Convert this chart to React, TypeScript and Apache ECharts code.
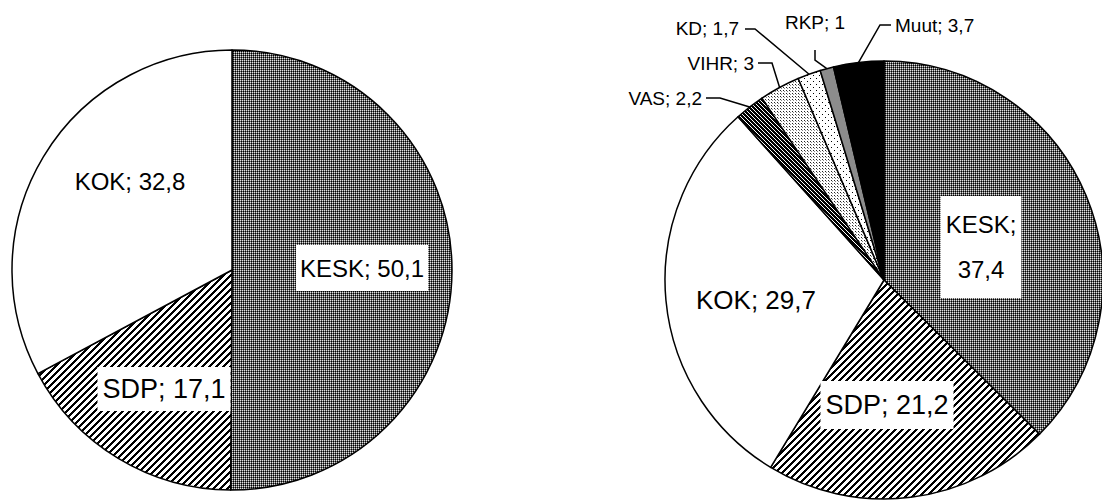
import React, { useEffect, useRef } from 'react';
import * as echarts from 'echarts';

// ---- data ----
const leftNames = ['KESK', 'SDP', 'KOK'];
const leftValues = [50.1, 17.1, 32.8];
const rightNames = ['KESK', 'SDP', 'KOK', 'VAS', 'VIHR', 'KD', 'RKP', 'Muut'];
const rightValues = [37.4, 21.2, 29.7, 2.2, 3, 1.7, 1, 3.7];

const fmt = (v: number) => String(v).replace('.', ',');

function makeTile(size: number, fn: (x: number, y: number) => string) {
  const c = document.createElement('canvas');
  c.width = size;
  c.height = size;
  const ctx = c.getContext('2d')!;
  for (let y = 0; y < size; y++) {
    for (let x = 0; x < size; x++) {
      ctx.fillStyle = fn(x, y);
      ctx.fillRect(x, y, 1, 1);
    }
  }
  return { image: c, repeat: 'repeat', imageWidth: size, imageHeight: size } as any;
}

function makePatterns() {
  const kesk = makeTile(4, (x, y) => {
    if (y % 2 === 0) return x % 2 === 0 ? '#e0e0e0' : '#5a5a5a';
    return x % 2 === 0 ? '#6a6a6a' : '#000000';
  });
  const sdp = makeTile(7, (x, y) => ((x + y) % 7 < 3 ? '#000000' : '#ffffff'));
  const vas = makeTile(4, (x, y) => (((x - y) % 4 + 4) % 4 === 0 ? '#ffffff' : '#000000'));
  const vihr = makeTile(3, (x, y) => {
    if (x === 0 && y === 0) return '#222222';
    if (x === 1 && y === 1) return '#888888';
    return '#ffffff';
  });
  const kd = makeTile(6, (x, y) => ((x === 0 && y === 0) || (x === 3 && y === 3) ? '#000000' : '#ffffff'));
  return {
    KESK: kesk,
    SDP: sdp,
    KOK: '#ffffff',
    VAS: vas,
    VIHR: vihr,
    KD: kd,
    RKP: '#8c8c8c',
    Muut: '#000000',
  } as Record<string, any>;
}

const FONT = 'Liberation Sans, Arial, sans-serif';

export default function App() {
  const ref = useRef<HTMLDivElement>(null);

  useEffect(() => {
    document.body.style.margin = '0';
    const chart = echarts.init(ref.current!, null, { renderer: 'svg' });
    const pat = makePatterns();

    const boxed = { backgroundColor: '#ffffff', padding: [9, 4] };

    const leftLayout: Record<string, any> = {
      KESK: { x: 362, y: 268 },
      SDP: { x: 164, y: 389 },
      KOK: { x: 130, y: 181 },
    };
    const rightLayout: Record<string, any> = {
      KESK: { x: 981, y: 247 },
      SDP: { x: 887, y: 405 },
      KOK: { x: 756, y: 300 },
      VAS: { x: 702, y: 98, align: 'right', elbow: [720, 98], end: [706, 98] },
      VIHR: { x: 754, y: 63, align: 'right', elbow: [772, 63], end: [758, 63] },
      KD: { x: 739, y: 28, align: 'right', elbow: [755, 29], end: [745, 29] },
      RKP: { x: 815, y: 22, align: 'center', elbow: [815, 60], end: [815, 50] },
      Muut: { x: 895, y: 25, align: 'left', elbow: [880, 25], end: [891, 25] },
    };

    const makeLayout = (names: string[], table: Record<string, any>) => (params: any) => {
      const L = table[names[params.dataIndex]];
      if (!L) return {};
      const out: any = { x: L.x, y: L.y, align: L.align || 'center', verticalAlign: 'middle' };
      if (L.elbow && params.labelLinePoints && params.labelLinePoints[0]) {
        out.labelLinePoints = [params.labelLinePoints[0], L.elbow, L.end];
      }
      return out;
    };

    const leftData = leftNames.map((n, i) => ({
      name: n,
      value: leftValues[i],
      itemStyle: { color: pat[n] },
      label: n === 'KOK' ? {} : n === 'SDP' ? { ...boxed, fontSize: 27, padding: [8, 5] } : { ...boxed },
    }));

    const small = ['VAS', 'VIHR', 'KD', 'RKP', 'Muut'];
    const rightData = rightNames.map((n, i) => {
      const isSmall = small.includes(n);
      let label: any = {};
      if (isSmall) {
        label = { position: 'outside', fontSize: 19 };
      } else if (n === 'KESK') {
        label = { ...boxed, padding: [6, 5], lineHeight: 45, formatter: (p: any) => `${p.name};\n${fmt(p.value)}` };
      } else if (n === 'SDP') {
        label = { ...boxed, fontSize: 27, padding: [10, 5] };
      } else if (n === 'KOK') {
        label = { fontSize: 26 };
      }
      return {
        name: n,
        value: rightValues[i],
        itemStyle: { color: pat[n] },
        label,
        labelLine: { show: isSmall },
      };
    });

    const common = {
      type: 'pie',
      startAngle: 90,
      clockwise: true,
      avoidLabelOverlap: false,
      silent: true,
      emphasis: { disabled: true },
      itemStyle: { borderColor: '#000000', borderWidth: 1.5 },
      label: {
        show: true,
        position: 'inside',
        color: '#000000',
        fontFamily: FONT,
        fontSize: 24,
        lineHeight: 28,
        formatter: (p: any) => `${p.name}; ${fmt(p.value)}`,
      },
      labelLine: {
        show: false,
        smooth: false,
        lineStyle: { color: '#000000', width: 1.5 },
      },
    };

    chart.setOption({
      animation: false,
      backgroundColor: '#ffffff',
      series: [
        {
          ...common,
          name: 'left',
          center: [232, 270],
          radius: 220,
          data: leftData,
          labelLayout: makeLayout(leftNames, leftLayout),
        },
        {
          ...common,
          name: 'right',
          center: [884, 280],
          radius: 219,
          data: rightData,
          labelLayout: makeLayout(rightNames, rightLayout),
        },
      ],
    });

    return () => chart.dispose();
  }, []);

  return <div ref={ref} style={{ width: 1102, height: 504 }} />;
}
